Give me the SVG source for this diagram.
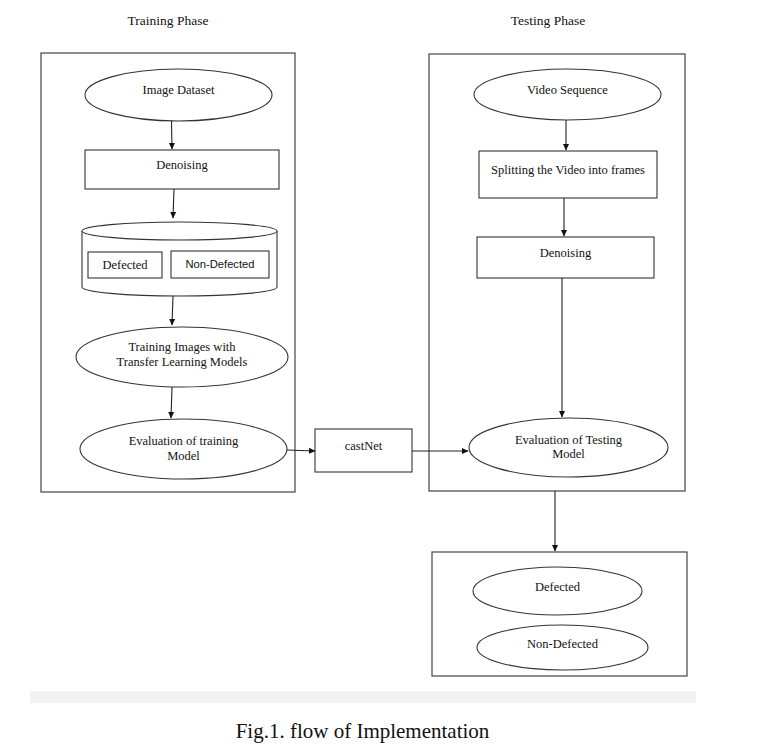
<svg xmlns="http://www.w3.org/2000/svg" width="771" height="751" viewBox="0 0 771 751">
<style>
.s{fill:#fff;stroke:#333;stroke-width:1.1}
.p{fill:none;stroke:#444;stroke-width:1.2}
.t{font-family:"Liberation Serif","Times New Roman",serif;font-size:12.5px;fill:#111;text-anchor:middle}
.a{font-family:"Liberation Sans",Arial,sans-serif;font-size:11.2px;fill:#111;text-anchor:middle}
.h{font-family:"Liberation Serif","Times New Roman",serif;font-size:13.5px;fill:#111;text-anchor:middle}
.c{fill:none;stroke:#222;stroke-width:1.1;marker-end:url(#ah)}
</style>
<defs>
<marker id="ah" markerWidth="7" markerHeight="7" refX="6" refY="3.5" orient="auto" markerUnits="userSpaceOnUse">
<path d="M0,0.5 L6.5,3.5 L0,6.5 Z" fill="#111"/>
</marker>
</defs>
<rect width="771" height="751" fill="#fff"/>
<text class="h" x="168" y="25">Training Phase</text>
<text class="h" x="548" y="25">Testing Phase</text>
<g id="training-panel"><rect class="p" x="41" y="53" width="254" height="439"/></g>
<g id="testing-panel"><rect class="p" x="429" y="54" width="256" height="437"/></g>
<g id="image-dataset"><ellipse class="s" cx="178.5" cy="95" rx="93.5" ry="26"/><text class="t" x="178.5" y="94">Image Dataset</text></g>
<g id="denoising-train"><rect class="s" x="85" y="150" width="194" height="39"/><text class="t" x="182" y="169">Denoising</text></g>
<g id="dataset-cylinder">
<path class="s" d="M82,231 L82,287 A97.5,9 0 0 0 277,287 L277,231"/>
<ellipse class="s" cx="179.5" cy="231" rx="97.5" ry="9"/>
<rect class="s" x="88" y="252" width="74" height="26"/><text class="t" x="125" y="269">Defected</text>
<rect class="s" x="171" y="251" width="98" height="27"/><text class="a" x="220" y="268">Non-Defected</text>
</g>
<g id="training-images"><ellipse class="s" cx="182" cy="357" rx="106" ry="30"/><text class="t" x="182" y="351">Training Images with</text><text class="t" x="182" y="366">Transfer Learning Models</text></g>
<g id="eval-training"><ellipse class="s" cx="183.5" cy="449" rx="103.5" ry="30"/><text class="t" x="183.5" y="445">Evaluation of training</text><text class="t" x="183.5" y="460">Model</text></g>
<g id="castnet"><rect class="s" x="315" y="429" width="97" height="43"/><text class="t" x="363.5" y="450">castNet</text></g>
<g id="video-sequence"><ellipse class="s" cx="567.5" cy="94.5" rx="93.5" ry="25.5"/><text class="t" x="567.5" y="94">Video Sequence</text></g>
<g id="splitting"><rect class="s" x="479" y="151" width="178" height="47"/><text class="t" x="568" y="174">Splitting the Video into frames</text></g>
<g id="denoising-test"><rect class="s" x="477" y="237" width="177" height="41"/><text class="t" x="565.5" y="257">Denoising</text></g>
<g id="eval-testing"><ellipse class="s" cx="568.5" cy="447.5" rx="99.5" ry="29.5"/><text class="t" x="568.5" y="444">Evaluation of Testing</text><text class="t" x="568.5" y="458">Model</text></g>
<g id="results">
<rect class="p" x="432" y="552" width="255" height="124"/>
<ellipse class="s" cx="557.5" cy="591" rx="84.5" ry="24"/><text class="t" x="557.5" y="591">Defected</text>
<ellipse class="s" cx="562.5" cy="647.5" rx="85.5" ry="22.5"/><text class="t" x="562.5" y="648">Non-Defected</text>
</g>
<g id="connectors">
<path class="c" d="M171.5,121 L172,149"/>
<path class="c" d="M174,189 L173,218"/>
<path class="c" d="M173,296 L172,325"/>
<path class="c" d="M172,387 L171,418"/>
<path class="c" d="M287,450 L315,451"/>
<path class="c" d="M412,451 L468,451"/>
<path class="c" d="M566,120 L566,150"/>
<path class="c" d="M564,198 L564,236"/>
<path class="c" d="M562,278 L562,417"/>
<path class="c" d="M555,491 L555,551"/>
</g>
<rect x="30" y="691" width="666" height="12" fill="#f2f2f2"/>
<text x="362.5" y="738" style="font-family:'Liberation Serif','Times New Roman',serif;font-size:21px;fill:#111;text-anchor:middle">Fig.1. flow of Implementation</text>
</svg>
